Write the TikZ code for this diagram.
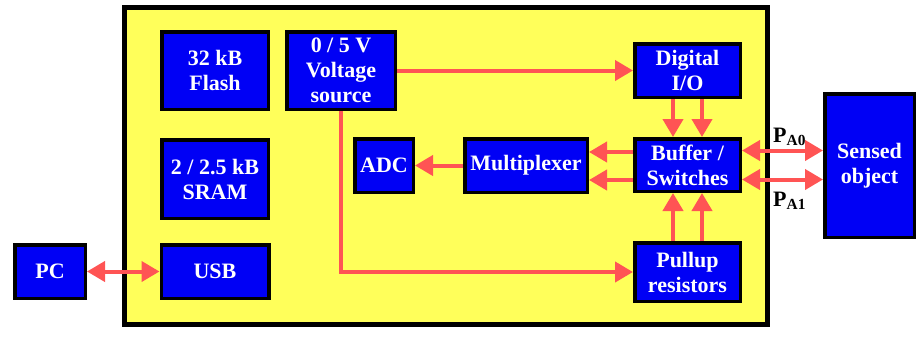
\documentclass[tikz,border=0pt]{standalone}
\usepackage{fontspec}
\setmainfont{Liberation Serif}
\usetikzlibrary{positioning, arrows.meta}
\definecolor{chipbg}{RGB}{255,255,90}
\definecolor{blockblue}{RGB}{0,0,245}
\definecolor{wirered}{RGB}{255,84,84}

\begin{document}
\begin{tikzpicture}[
  x=1pt, y=-1pt,
  every node/.style={font=\fontsize{22}{25}\selectfont\bfseries},
  block/.style={rectangle, draw=black, line width=3.5pt, fill=blockblue, text=white, align=center, inner sep=0pt},
  wire/.style={draw=wirered, line width=4pt, -{Triangle[length=18pt, width=20pt]}},
  biwire/.style={wire, {Triangle[length=18pt, width=20pt]}-{Triangle[length=18pt, width=20pt]}}
]
  \useasboundingbox (0,0) rectangle (921,338);

  % Microcontroller board
  \node[draw=black, line width=5pt, fill=chipbg, minimum width=643pt, minimum height=317pt, inner sep=0pt] (chip) at (446,166) {};

  % Left column: memories and USB
  \node[block, minimum width=106.5pt, minimum height=77.5pt] (flash) at (215,70.5) {32 kB\\Flash};
  \node[block, minimum width=106.5pt, minimum height=78.5pt] (sram) at (215,179) {2 / 2.5 kB\\SRAM};
  \node[block, minimum width=107.5pt, minimum height=53.5pt] (usb) at (215,271.5) {USB};
  \node[block, minimum width=108.5pt, minimum height=77.5pt] (volt) at (341,70.5) {0 / 5 V\\Voltage\\source};

  % Middle row: conversion
  \node[block, minimum width=58.5pt, minimum height=53.5pt] (adc) at (384,165.5) {ADC};
  \node[block, minimum width=122.5pt, minimum height=53.5pt] (mux) at (526,165.5) {Multiplexer};

  % Right column: port logic
  \node[block, minimum width=105.5pt, minimum height=53.5pt] (dio) at (687.5,70.5) {Digital\\I/O};
  \node[block, minimum width=105.5pt, minimum height=52.5pt] (buf) at (687.5,165) {Buffer /\\Switches};
  \node[block, minimum width=105.5pt, minimum height=58.5pt] (pullup) at (687.5,272) {Pullup\\resistors};

  % Outside the board
  \node[block, minimum width=70.5pt, minimum height=53.5pt] (pc) at (50,271.5) {PC};
  \node[block, minimum width=89.5pt, minimum height=143.5pt] (sensed) at (869.5,165.5) {Sensed\\object};

  % Pin labels
  \node[anchor=base west, inner sep=0pt] (pa0) at (773,142) {P\textsubscript{A0}};
  \node[anchor=base west, inner sep=0pt] (pa1) at (773,206) {P\textsubscript{A1}};

  % Connections
  \draw[wire] (volt.east) -- (dio.west);
  \draw[wire] (volt.south) |- (pullup.west);
  \draw[wire] ([xshift=-14.5pt]dio.south) -- ([xshift=-14.5pt]buf.north);
  \draw[wire] ([xshift=14.5pt]dio.south) -- ([xshift=14.5pt]buf.north);
  \draw[wire] ([xshift=-14.5pt]pullup.north) -- ([xshift=-14.5pt]buf.south);
  \draw[wire] ([xshift=14.5pt]pullup.north) -- ([xshift=14.5pt]buf.south);
  \draw[wire] ([yshift=13pt]buf.west) -- ([yshift=13pt]buf.west -| mux.east);
  \draw[wire] ([yshift=-15pt]buf.west) -- ([yshift=-15pt]buf.west -| mux.east);
  \draw[wire] (mux.west) -- (adc.east);
  \draw[biwire] ([yshift=14.5pt]buf.east) -- ([yshift=14.5pt]buf.east -| sensed.west);
  \draw[biwire] ([yshift=-14.5pt]buf.east) -- ([yshift=-14.5pt]buf.east -| sensed.west);
  \draw[biwire] (pc.east) -- (usb.west);

\end{tikzpicture}
\end{document}
